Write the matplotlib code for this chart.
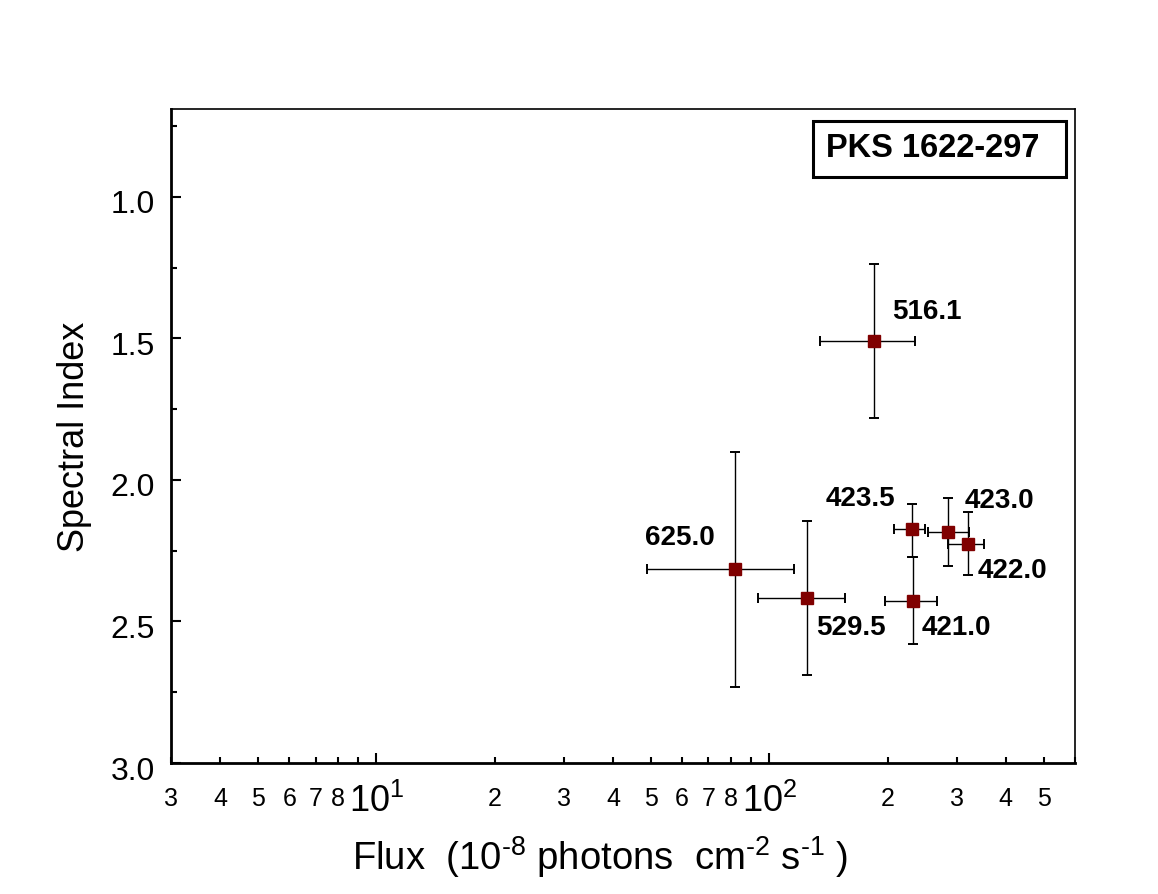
import numpy as np
import matplotlib
matplotlib.use("Agg")
import matplotlib.pyplot as plt
from matplotlib import font_manager
from matplotlib.ticker import LogLocator, FuncFormatter, MultipleLocator
from matplotlib.patches import Rectangle
from matplotlib.transforms import ScaledTranslation

names = {f.name for f in font_manager.fontManager.ttflist}
narrow = "Liberation Sans Narrow" if "Liberation Sans Narrow" in names else "Liberation Sans"

plt.rcParams["font.family"] = ["Liberation Sans", "DejaVu Sans"]
plt.rcParams["mathtext.fontset"] = "custom"
plt.rcParams["mathtext.rm"] = narrow
plt.rcParams["mathtext.it"] = narrow
plt.rcParams["mathtext.bf"] = narrow

# data
labels = ["516.1", "625.0", "529.5", "423.5", "423.0", "422.0", "421.0"]
flux = [184.8, 82.0, 124.8, 231.1, 285.8, 319.6, 231.9]
flux_lo = [134.4, 48.9, 93.4, 207.8, 253.0, 285.8, 197.0]
flux_hi = [234.4, 115.5, 156.1, 249.0, 321.5, 352.2, 266.7]
index = [1.509, 2.316, 2.418, 2.173, 2.184, 2.225, 2.428]
index_lo = [1.238, 1.902, 2.144, 2.086, 2.063, 2.113, 2.274]
index_hi = [1.780, 2.731, 2.689, 2.272, 2.305, 2.335, 2.579]
source = "PKS 1622-297"

# label placement (pixels from the point) and alignment
offsets = [(18, 29), (-56, 31), (9, -30), (-17, 30), (16, 31), (10, -27), (9, -27)]
aligns = ["left", "center", "left", "right", "left", "left", "left"]

fig = plt.figure(figsize=(11.58, 8.94), dpi=100)
W, H = 1158, 894
ax = fig.add_axes([171 / W, 1 - 763 / H, (1075 - 171) / W, (763 - 109) / H])

fx = np.array(flux)
fy = np.array(index)
xerr = [fx - np.array(flux_lo), np.array(flux_hi) - fx]
yerr = [fy - np.array(index_lo), np.array(index_hi) - fy]

ax.errorbar(fx, fy, xerr=xerr, yerr=yerr, fmt="none", ecolor="black",
            elinewidth=1.0, capsize=3.6, capthick=1.4, zorder=2)
ax.plot(fx, fy, "s", color="#800000", markersize=8, zorder=3)

for lab, x, y, off, ha in zip(labels, flux, index, offsets, aligns):
    ax.annotate(lab, (x, y), xytext=off, textcoords="offset pixels",
                ha=ha, va="center", fontsize=20, fontweight="bold")

ax.set_xscale("log")
ax.set_xlim(3, 600)
ax.set_ylim(3.0, 0.69)

ax.xaxis.set_major_locator(LogLocator(base=10, numticks=10))
ax.xaxis.set_minor_locator(LogLocator(base=10, subs=np.arange(2, 10), numticks=20))


def major_fmt(v, pos):
    return r"$10^{%d}$" % int(round(np.log10(v)))


def minor_fmt(v, pos):
    if v >= 590:
        return ""
    m = int(round(v / 10 ** np.floor(np.log10(v) + 1e-9)))
    return str(m) if 2 <= m <= 8 else ""


ax.xaxis.set_major_formatter(FuncFormatter(major_fmt))
ax.xaxis.set_minor_formatter(FuncFormatter(minor_fmt))

ax.yaxis.set_major_locator(MultipleLocator(0.5))
ax.yaxis.set_minor_locator(MultipleLocator(0.25))
ax.yaxis.set_major_formatter(FuncFormatter(lambda v, p: "%.1f" % v))

ax.tick_params(axis="both", which="both", direction="in", top=False, right=False)
ax.tick_params(axis="both", which="major", length=7.5, width=1.5)
ax.tick_params(axis="both", which="minor", length=4, width=1.5)
ax.tick_params(axis="y", which="major", labelsize=23, pad=11.5)
ax.tick_params(axis="x", which="major", labelsize=26, pad=15)
ax.tick_params(axis="x", which="minor", labelsize=18, pad=17)
for t in ax.get_xticklabels(which="minor"):
    t.set_family(narrow)

# y labels sit a little below their ticks, as in the original
shift = ScaledTranslation(0, -5 / 100, fig.dpi_scale_trans)
for t in ax.get_yticklabels():
    t.set_transform(t.get_transform() + shift)

for s in ["left", "bottom"]:
    ax.spines[s].set_linewidth(2.0)
for s in ["top", "right"]:
    ax.spines[s].set_linewidth(1.2)

# source name box
ax.add_patch(Rectangle((0.710, 0.896), 0.280, 0.086, transform=ax.transAxes,
                       fill=False, edgecolor="black", linewidth=2.2, zorder=4))
ax.text(0.843, 0.939, source, transform=ax.transAxes, ha="center", va="center",
        fontsize=23.5, fontweight="bold", zorder=5)

fig.text(75 / W, 1 - 437 / H, "Spectral Index", rotation=90, ha="center",
         va="center", fontsize=26)
fig.text(600 / W, 1 - 857 / H,
         r"Flux  (10$^{\text{-8}}$ photons  cm$^{\text{-2}}$ s$^{\text{-1}}$ )",
         ha="center", va="center", fontsize=27.5, family=[narrow, "DejaVu Sans"])

fig.savefig("out.png", dpi=100)
